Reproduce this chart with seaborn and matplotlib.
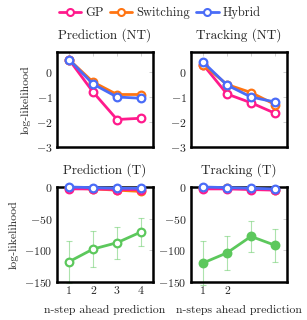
import numpy as np
import pandas as pd
import matplotlib
matplotlib.use("Agg")
import matplotlib.pyplot as plt
import seaborn as sns

sns.set_style("white")
plt.rcParams["font.family"] = "serif"
plt.rcParams["font.serif"] = ["cmr10", "DejaVu Serif"]
plt.rcParams["mathtext.fontset"] = "cm"
plt.rcParams["axes.formatter.use_mathtext"] = True

steps = [1, 2, 3, 4]
series_names = ["GP", "Switching", "Hybrid"]
colors = {"GP": "#ff1a8c", "Switching": "#ff7412", "Hybrid": "#4a6cf7", "Other": "#5cc85c"}

# Prediction (NT)
pred_nt = {"GP": [0.5, -0.8, -1.9, -1.85],
           "Switching": [0.5, -0.4, -0.9, -0.9],
           "Hybrid": [0.5, -0.48, -1.0, -1.05]}
pred_nt_err = {"GP": [0.05, 0.06, 0.15, 0.12],
               "Switching": [0.03, 0.05, 0.06, 0.06],
               "Hybrid": [0.03, 0.05, 0.08, 0.1]}
# Tracking (NT)
track_nt = {"GP": [0.3, -0.88, -1.23, -1.65],
            "Switching": [0.3, -0.5, -0.82, -1.3],
            "Hybrid": [0.4, -0.52, -1.0, -1.2]}
track_nt_err = {"GP": [0.05, 0.06, 0.12, 0.12],
                "Switching": [0.03, 0.05, 0.06, 0.12],
                "Hybrid": [0.03, 0.05, 0.08, 0.12]}
# Prediction (T)
pred_t = {"GP": [-3, -3, -4, -4],
          "Switching": [-2, -3, -5, -7],
          "Hybrid": [0, -1, -2, -2],
          "Other": [-118, -98, -88, -71]}
pred_t_err = {"GP": [1, 1, 1, 1], "Switching": [1, 1, 1, 1], "Hybrid": [1, 1, 1, 1],
              "Other": [33, 28, 25, 22]}
# Tracking (T)
track_t = {"GP": [-3, -3, -4, -5],
           "Switching": [-2, -2, -3, -4],
           "Hybrid": [0, -1, -2, -3],
           "Other": [-120, -104, -78, -92]}
track_t_err = {"GP": [1, 1, 1, 1], "Switching": [1, 1, 1, 1], "Hybrid": [1, 1, 1, 1],
               "Other": [35, 27, 25, 26]}

fig = plt.figure(figsize=(3.07, 3.20), dpi=100)
W, H = 307, 320
def add_ax(x0, y0, x1, y1):
    return fig.add_axes([x0 / W, 1 - y1 / H, (x1 - x0) / W, (y1 - y0) / H])

ax_tl = add_ax(57, 52, 153, 147)
ax_tr = add_ax(191, 52, 287, 147)
ax_bl = add_ax(57, 187, 153, 282)
ax_br = add_ax(191, 187, 287, 282)

def draw(ax, vals, errs, order, filled_other=False):
    for name in order:
        c = colors[name]
        df = pd.DataFrame({"step": steps, "val": vals[name]})
        ax.errorbar(steps, vals[name], yerr=errs[name], fmt="none", ecolor=c,
                    alpha=0.5, elinewidth=0.8, capsize=2, capthick=0.8, zorder=2, clip_on=False)
        face = c if (name == "Other" and filled_other) else "white"
        sns.lineplot(data=df, x="step", y="val", ax=ax, color=c, lw=2, marker="o",
                     markersize=5.5, markerfacecolor=face, markeredgecolor=c,
                     markeredgewidth=1.6, zorder=3, clip_on=False)

draw(ax_tl, pred_nt, pred_nt_err, ["GP", "Switching", "Hybrid"])
draw(ax_tr, track_nt, track_nt_err, ["GP", "Switching", "Hybrid"])
draw(ax_bl, pred_t, pred_t_err, ["Other", "Switching", "GP", "Hybrid"])
draw(ax_br, track_t, track_t_err, ["Other", "Switching", "GP", "Hybrid"], filled_other=True)

for ax in [ax_tl, ax_tr, ax_bl, ax_br]:
    ax.set_xlim(0.5, 4.5)
    ax.set_xticks(steps)
    for s in ax.spines.values():
        s.set_linewidth(1.8)
        s.set_color("black")
    ax.tick_params(direction="in", length=3, width=0.6, color="#c8c8c8",
                   labelsize=8.5, top=True, right=True, pad=3)
    ax.set_xlabel("")
    ax.set_ylabel("")

for ax in [ax_tl, ax_tr]:
    ax.set_ylim(-3, 0.8)
    ax.set_yticks([-3, -2, -1, 0])
    ax.set_xticklabels([])
for ax in [ax_bl, ax_br]:
    ax.set_ylim(-150, 0)
    ax.set_yticks([-150, -100, -50, 0])

ax_bl.set_xticklabels(["1", "2", "3", "4"])
ax_br.set_xticklabels(["1", "2", "", ""])

ax_tl.set_title("Prediction (NT)", fontsize=9.5, pad=10)
ax_tr.set_title("Tracking (NT)", fontsize=9.5, pad=10)
ax_bl.set_title("Prediction (T)", fontsize=9.5, pad=10)
ax_br.set_title("Tracking (T)", fontsize=9.5, pad=10)

ax_tl.set_ylabel("log-likelihood", fontsize=8.5, labelpad=4)
ax_bl.set_ylabel("log-likelihood", fontsize=8.5, labelpad=4)
ax_bl.set_xlabel("n-step ahead prediction", fontsize=8.5, labelpad=7)
ax_br.set_xlabel("n-steps ahead prediction", fontsize=8.5, labelpad=7)

from matplotlib.lines import Line2D
handles = [Line2D([], [], color=colors[n], lw=2, marker="o", markersize=5,
                  markerfacecolor="white", markeredgecolor=colors[n], markeredgewidth=1.5)
           for n in series_names]
fig.legend(handles, series_names, loc="upper center", bbox_to_anchor=(0.52, 1.015),
           ncol=3, frameon=False, fontsize=9, handlelength=1.8, handletextpad=0.3,
           columnspacing=0.5)

fig.savefig("out.png", dpi=100)
